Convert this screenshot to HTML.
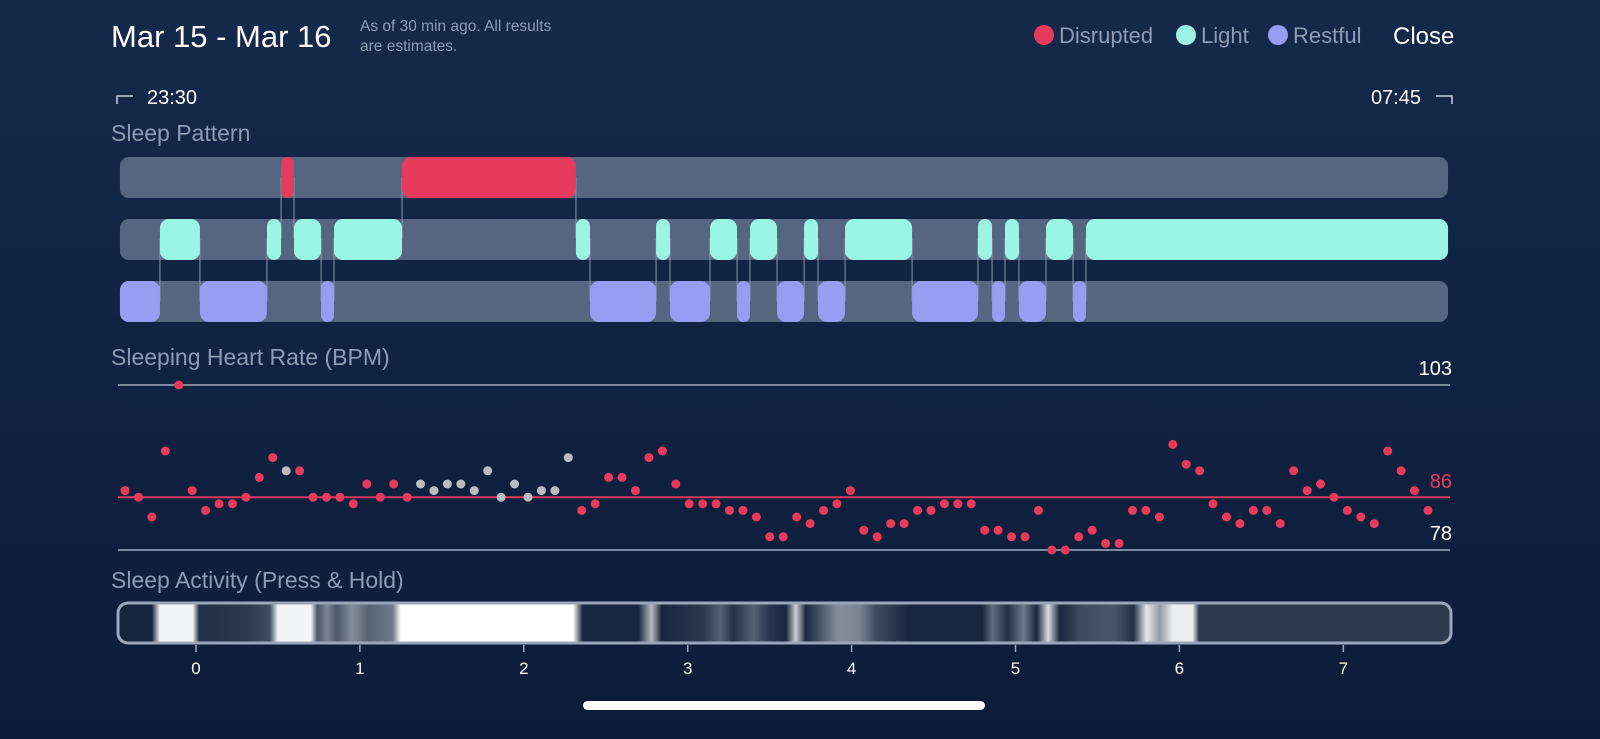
<!DOCTYPE html>
<html><head><meta charset="utf-8"><style>
html,body{margin:0;padding:0;width:1600px;height:739px;overflow:hidden;background:linear-gradient(#15294b,#0c1c38);font-family:"Liberation Sans",sans-serif}
svg{position:absolute;left:0;top:0}
</style></head><body>
<svg id="chart" width="1600" height="739">
<text x="111" y="47" font-size="31" fill="#fff">Mar 15 - Mar 16</text>
<text x="360" y="31" font-size="15.5" fill="#8f9bb3">As of 30 min ago. All results</text>
<text x="360" y="51" font-size="15.5" fill="#8f9bb3">are estimates.</text>
<g>
<circle cx="1044" cy="35" r="10" fill="#e83a5c"/>
<text x="1059" y="43" font-size="22" fill="#8f9bb3">Disrupted</text>
<circle cx="1186" cy="35" r="10" fill="#9af5e6"/>
<text x="1201" y="43" font-size="22" fill="#8f9bb3">Light</text>
<circle cx="1278" cy="35" r="10" fill="#979df0"/>
<text x="1293" y="43" font-size="22" fill="#8f9bb3">Restful</text>
</g>
<text x="1393" y="44" font-size="24" fill="#fff">Close</text>
<path d="M117 104 V96 H133" stroke="#c8d0de" stroke-width="1.5" fill="none"/>
<text x="147" y="104" font-size="20" fill="#fff">23:30</text>
<path d="M1452 104 V96 H1436" stroke="#c8d0de" stroke-width="1.5" fill="none"/>
<text x="1421" y="104" font-size="20" fill="#fff" text-anchor="end">07:45</text>
<text x="111" y="141" font-size="23" fill="#8f9bb3">Sleep Pattern</text>
<text x="111" y="365" font-size="23" fill="#8f9bb3">Sleeping Heart Rate (BPM)</text>
<text x="111" y="588" font-size="23" fill="#8f9bb3">Sleep Activity (Press &amp; Hold)</text>
<g id="pattern"></g>
<g id="hr"></g>
<g id="act"></g>
<rect x="583" y="701" width="402" height="9" rx="4.5" fill="#fff"/>
</svg>
<script>
const xStart = -0.464, xEnd = 7.639;
const disrupted = [[0.519,0.598],[1.257,2.318]];
const light = [[-0.22,0.024],[0.433,0.519],[0.598,0.763],[0.842,1.257],[2.318,2.404],[2.807,2.892],[3.136,3.301],[3.380,3.545],[3.710,3.795],[3.960,4.369],[4.771,4.857],[4.936,5.021],[5.186,5.351],[5.430,7.639]];
const restful = [[-0.464,-0.22],[0.024,0.433],[0.763,0.842],[2.404,2.807],[2.892,3.136],[3.301,3.380],[3.545,3.710],[3.795,3.960],[4.369,4.771],[4.857,4.936],[5.021,5.186],[5.351,5.430]];
const hrValues = [87,86,83,93,103,87,84,85,85,86,89,92,90,90,86,86,86,85,88,86,88,86,88,87,88,88,87,90,86,88,86,87,87,92,84,85,89,89,87,92,93,88,85,85,85,84,84,83,80,80,83,82,84,85,87,81,80,82,82,84,84,85,85,85,81,81,80,80,84,78,78,80,81,79,79,84,84,83,94,91,90,85,83,82,84,84,82,90,87,88,86,84,83,82,93,90,87,84];
const hrGrey = [12,22,23,24,25,26,27,28,29,30,31,32,33];
const hrAvg = 86, hrMax = 103, hrMin = 78;
const xTicks = [0,1,2,3,4,5,6,7];
const actStops = [[-0.464,0.03],[-0.27,0.03],[-0.22,0.95],[-0.02,0.95],[0.02,0.08],[0.3,0.12],[0.45,0.2],[0.5,0.95],[0.7,0.95],[0.74,0.25],[0.8,0.45],[0.86,0.25],[0.95,0.5],[1.05,0.3],[1.2,0.4],[1.25,1],[2.3,1],[2.36,0.04],[2.7,0.04],[2.78,0.7],[2.84,0.04],[3.1,0.12],[3.2,0.3],[3.28,0.08],[3.4,0.3],[3.5,0.1],[3.6,0.04],[3.66,0.8],[3.72,0.04],[3.92,0.5],[4.05,0.45],[4.15,0.2],[4.35,0.04],[4.8,0.04],[4.86,0.35],[4.95,0.08],[5.05,0.4],[5.13,0.04],[5.2,0.85],[5.27,0.04],[5.4,0.2],[5.6,0.25],[5.72,0.08],[5.8,0.9],[5.88,0.55],[5.96,0.92],[6.08,0.92],[6.12,0.12],[7.639,0.12]];
const X = h => 196 + h*163.9;
const HY = v => 550 - (v-hrMin)*(165/(hrMax-hrMin));
const NS='http://www.w3.org/2000/svg';
function mk(tag,attrs,parent){const e=document.createElementNS(NS,tag);for(const k in attrs)e.setAttribute(k,attrs[k]);parent.appendChild(e);return e;}
const pat=document.getElementById('pattern');
const rows=[[157,disrupted,'#e83a5c','disrupted'],[219,light,'#9af5e6','light'],[281,restful,'#979df0','restful']];
rows.forEach(([y,segs,col,nm])=>{
  const bg=mk('rect',{x:X(xStart),y:y,width:X(xEnd)-X(xStart),height:41,rx:9,fill:'#566680'},pat);
  
  
});
const edges={};
rows.forEach(([y,segs])=>segs.forEach(s=>{[s[0],s[1]].forEach(t=>{const k=t.toFixed(3);(edges[k]=edges[k]||[]).push(y);});}));
for(const k in edges){const ys=edges[k];if(ys.length<2)continue;const a=Math.min(...ys),b=Math.max(...ys);
  const l=mk('line',{x1:X(+k),x2:X(+k),y1:a+20,y2:b+20,stroke:'#8a97ad','stroke-width':1},pat);
  
  }
rows.forEach(([y,segs,col,nm])=>segs.forEach(s=>{
  const w=X(s[1])-X(s[0]);
  const r=mk('rect',{x:X(s[0]),y:y,width:w,height:41,rx:Math.min(9,w/2),fill:col},pat);
  
  
}));
const hr=document.getElementById('hr');
[[hrMax,'#7c8aa0'],[hrMin,'#7c8aa0'],[hrAvg,'#e83a5c']].forEach(([v,c])=>{
  const l=mk('line',{x1:118,x2:1450,y1:HY(v),y2:HY(v),stroke:c,'stroke-width':2},hr);
  
  
  const t=mk('text',{x:1452,y:HY(v)-(v==hrAvg?9:10),'font-size':20,fill:v==hrAvg?'#e83a5c':'#fff','text-anchor':'end'},hr);
  t.textContent=v;
  
  
});
const n=hrValues.length;
hrValues.forEach((v,i)=>{
  const x=125+i*(1428-125)/(n-1);
  const c=mk('circle',{cx:x,cy:HY(v),r:4.5,fill:hrGrey.includes(i)?'#b9bcc2':'#e83a5c'},hr);
  
  
});
const act=document.getElementById('act');
const defs=mk('defs',{},act);
const g=mk('linearGradient',{id:'ag',gradientUnits:'userSpaceOnUse',x1:X(xStart),x2:X(xEnd),y1:0,y2:0},defs);
actStops.forEach(([h,v])=>{
  const off=(X(h)-X(xStart))/(X(xEnd)-X(xStart));
  const c0=[14,30,56],c1=[255,255,255];
  const col=c0.map((a,j)=>Math.round(a+(c1[j]-a)*v));
  mk('stop',{offset:off,'stop-color':'rgb('+col.join(',')+')'},g);
});
const ab=mk('rect',{x:118,y:603,width:1333,height:40,rx:10,fill:'url(#ag)',stroke:'#9aa6bb','stroke-width':3},act);


xTicks.forEach(t=>{
  const l=mk('line',{x1:X(t),x2:X(t),y1:645,y2:652,stroke:'#9aa6bb','stroke-width':1.5},act);
  
  
  const tx=mk('text',{x:X(t),y:674,'font-size':17,fill:'#fff','text-anchor':'middle'},act);
  tx.textContent=t;
  
  
});
</script>
</body></html>
